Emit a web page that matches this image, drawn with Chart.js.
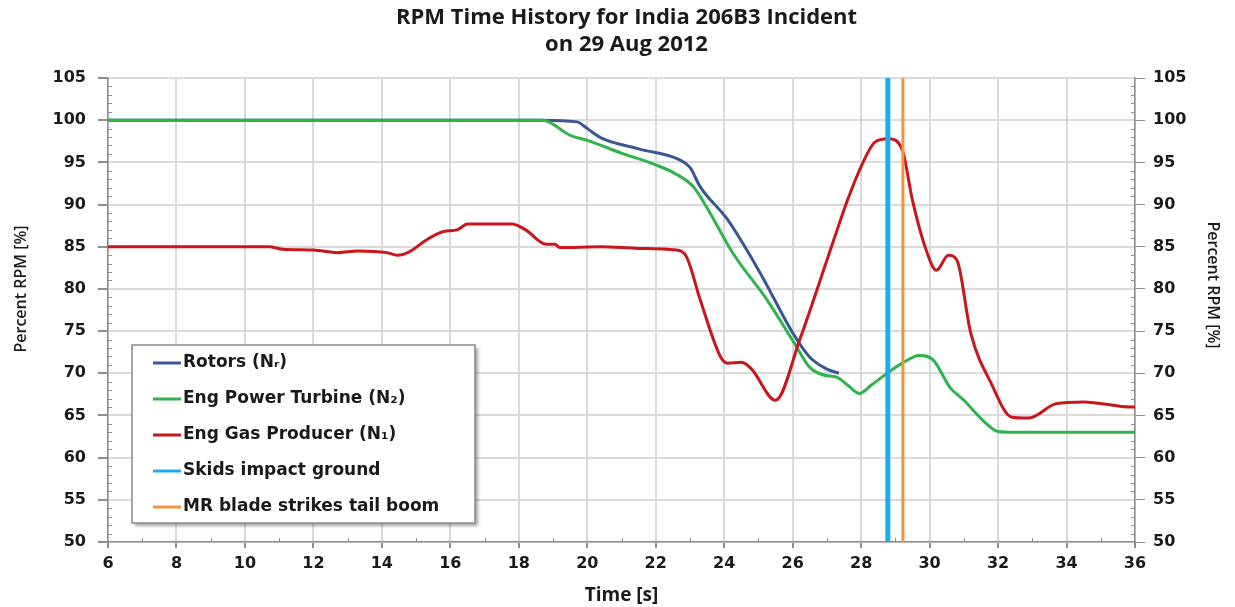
<!DOCTYPE html>
<html>
<head>
<meta charset="utf-8">
<title>RPM Time History</title>
<script src="https://cdn.jsdelivr.net/npm/chart.js@4.4.0/dist/chart.umd.min.js"></script>
<style>
  html, body { margin: 0; padding: 0; background: #fff; }
  canvas { display: block; }
</style>
</head>
<body>
<canvas id="rpmChart" width="1235" height="607"></canvas>
<script>
"use strict"
//Data (time in s, rpm in %)
const rotorsTime = [6, 18.7, 19.7, 20.0, 20.4, 21.5, 22.7, 23.0, 23.3, 24.1, 25.05, 26.0, 26.5, 27.0, 27.35];
const rotorsRpm  = [100, 100, 99.8, 99.0, 97.9, 96.6, 95.3, 94.4, 92.1, 88.2, 81.9, 74.8, 71.9, 70.5, 70.0];

const turbineTime = [6, 18.7, 19.5, 20.0, 21.0, 22.0, 22.6, 23.1, 23.5, 24.26, 25.25, 26.0, 26.5, 26.9, 27.3, 27.6, 27.95, 28.3, 28.76, 29.2, 29.7, 30.1, 30.6, 31.0, 31.56, 32.0, 32.5, 34, 36];
const turbineRpm  = [100, 100, 98.2, 97.6, 96.1, 94.7, 93.6, 92.1, 89.6, 84.2, 78.7, 73.9, 70.7, 69.8, 69.5, 68.6, 67.6, 68.6, 70.0, 71.2, 72.1, 71.6, 68.3, 66.8, 64.4, 63.1, 63.0, 63.0, 63.0];

const producerTime = [6, 10.7, 11.1, 12.0, 12.7, 13.3, 14.15, 14.45, 14.8, 15.3, 15.8, 16.2, 16.5, 17.8, 18.2, 18.8, 19.05, 19.2, 20.4, 21.5, 22.6, 22.9, 23.3, 23.9, 24.1, 24.5, 24.8, 25.5, 26.2, 27.2, 27.6, 28.0, 28.4, 28.8, 29.2, 29.5, 29.9, 30.2, 30.55, 30.8, 31.2, 31.8, 32.4, 32.9, 33.7, 34.5, 35.9, 36];
const producerRpm  = [85.0, 85.0, 84.7, 84.6, 84.3, 84.5, 84.3, 84.0, 84.4, 85.8, 86.8, 87.0, 87.7, 87.7, 87.0, 85.3, 85.3, 84.9, 85.0, 84.8, 84.6, 83.8, 78.7, 71.9, 71.2, 71.3, 70.5, 66.8, 73.9, 85.8, 90.5, 94.5, 97.4, 97.8, 96.5, 90.5, 84.6, 82.2, 84.0, 83.4, 74.8, 68.8, 64.8, 64.7, 66.4, 66.6, 66.0, 66.0];

//Event markers (time in s) and the y range they span
const skidsTime = 28.78;
const bladeTime = 29.22;
const rpmRange = [50, 105];

const seriesLabels = ["Rotors (N\u1d63)", "Eng Power Turbine (N\u2082)", "Eng Gas Producer (N\u2081)", "Skids impact ground", "MR blade strikes tail boom"];
const titleLines = ["RPM Time History for India 206B3 Incident", "on 29 Aug 2012"];
const yTitle = "Percent RPM [%]";

//gör om två listor till punkter
function toPoints(xs, ys) {
    return xs.map((x, i) => ({ x: x, y: ys[i] }));
}
function eventLine(t) {
    return rpmRange.map(v => ({ x: t, y: v }));
}

const gridColor = "#dadada";
const axisColor = "#8e8e8e";
const textColor = "#1a1a1a";
const tickFont = { family: "DejaVu Sans", size: 16, weight: "bold" };

//Titel, axeltitlar, minor ticks och legend ritas här
const extras = {
    id: "extras",
    beforeDatasetsDraw(chart) {
        const ctx = chart.ctx;
        const area = chart.chartArea;
        const y = chart.scales.y;
        const x = chart.scales.x;
        ctx.save();
        ctx.strokeStyle = axisColor;
        ctx.lineWidth = 1;
        for (let v = rpmRange[0]; v <= rpmRange[1]; v++) {
            if (v % 5 === 0) continue;
            const py = Math.round(y.getPixelForValue(v)) + 0.5;
            ctx.beginPath();
            ctx.moveTo(area.left, py);
            ctx.lineTo(area.left + 4, py);
            ctx.moveTo(area.right, py);
            ctx.lineTo(area.right - 4, py);
            ctx.stroke();
        }
        for (let t = 7; t < 36; t += 2) {
            const px = Math.round(x.getPixelForValue(t)) + 0.5;
            ctx.beginPath();
            ctx.moveTo(px, area.bottom);
            ctx.lineTo(px, area.bottom - 4);
            ctx.stroke();
        }
        ctx.restore();
    },
    afterDraw(chart) {
        const ctx = chart.ctx;
        const area = chart.chartArea;
        ctx.save();
        //titel
        ctx.fillStyle = textColor;
        ctx.font = "bold 22px 'Open Sans'";
        ctx.textAlign = "center";
        ctx.textBaseline = "middle";
        const cx = (area.left + area.right) / 2 + 5;
        ctx.fillText(titleLines[0], cx, 18);
        ctx.fillText(titleLines[1], cx, 45);

        //y-axeltitlar
        ctx.font = "600 16px 'Open Sans'";
        ctx.save();
        ctx.translate(21, 289);
        ctx.rotate(-Math.PI / 2);
        ctx.fillText(yTitle, 0, 0);
        ctx.restore();
        ctx.save();
        ctx.translate(1213, 285);
        ctx.rotate(Math.PI / 2);
        ctx.fillText(yTitle, 0, 0);
        ctx.restore();

        //legend
        const box = { left: 132, top: 345, width: 343, height: 178 };
        ctx.shadowColor = "rgba(0,0,0,0.35)";
        ctx.shadowBlur = 3;
        ctx.shadowOffsetX = 3;
        ctx.shadowOffsetY = 3;
        ctx.fillStyle = "#fff";
        ctx.fillRect(box.left, box.top, box.width, box.height);
        ctx.shadowColor = "transparent";
        ctx.strokeStyle = "#8a8a8a";
        ctx.lineWidth = 1.5;
        ctx.strokeRect(box.left, box.top, box.width, box.height);

        ctx.font = "bold 17px 'DejaVu Sans'";
        ctx.textAlign = "left";
        chart.data.datasets.forEach((ds, i) => {
            const ly = 363 + i * 36;
            ctx.strokeStyle = ds.borderColor;
            ctx.lineWidth = 3;
            ctx.beginPath();
            ctx.moveTo(153, ly);
            ctx.lineTo(181, ly);
            ctx.stroke();
            ctx.fillStyle = textColor;
            ctx.fillText(ds.label, 183, ly);
        });
        ctx.restore();
    }
};

const ctx = document.getElementById("rpmChart").getContext("2d");

new Chart(ctx, {
    type: "line",
    data: {
        datasets: [
            { label: seriesLabels[0], data: toPoints(rotorsTime, rotorsRpm), borderColor: "#3a5795", borderWidth: 3, order: 4 },
            { label: seriesLabels[1], data: toPoints(turbineTime, turbineRpm), borderColor: "#2fb34c", borderWidth: 3, order: 3 },
            { label: seriesLabels[2], data: toPoints(producerTime, producerRpm), borderColor: "#c9161d", borderWidth: 3, order: 2 },
            { label: seriesLabels[3], data: eventLine(skidsTime), borderColor: "#1badeb", borderWidth: 5, order: 0, cubicInterpolationMode: "default", tension: 0 },
            { label: seriesLabels[4], data: eventLine(bladeTime), borderColor: "#f7923c", borderWidth: 3, order: 1, cubicInterpolationMode: "default", tension: 0 }
        ]
    },
    options: {
        responsive: false,
        animation: false,
        layout: { padding: { top: 78, left: 0, right: 0, bottom: 0 } },
        elements: {
            point: { radius: 0 },
            line: { cubicInterpolationMode: "monotone", borderCapStyle: "butt" }
        },
        plugins: {
            legend: { display: false },
            title: { display: false },
            tooltip: { enabled: false }
        },
        scales: {
            x: {
                type: "linear",
                min: 6,
                max: 36,
                afterFit: (scale) => { scale.height = 65; },
                border: { color: axisColor, width: 1.5 },
                grid: { color: gridColor, lineWidth: 2, tickLength: 6, tickColor: axisColor },
                ticks: { stepSize: 2, color: textColor, font: tickFont, padding: 6 },
                title: { display: true, text: "Time [s]", color: textColor, font: { family: "Open Sans", size: 19, weight: "bold" }, padding: { top: 0, bottom: 0 } }
            },
            y: {
                position: "left",
                min: 50,
                max: 105,
                afterFit: (scale) => { scale.width = 108; },
                border: { color: axisColor, width: 1.5 },
                grid: { color: gridColor, lineWidth: 2, tickLength: 10, tickColor: axisColor },
                ticks: { stepSize: 5, color: textColor, font: tickFont, padding: 12 }
            },
            y2: {
                position: "right",
                min: 50,
                max: 105,
                afterFit: (scale) => { scale.width = 100; },
                border: { color: axisColor, width: 1.5 },
                grid: { drawOnChartArea: false, tickLength: 10, tickColor: axisColor },
                ticks: { stepSize: 5, color: textColor, font: tickFont, padding: 8 }
            }
        }
    },
    plugins: [extras]
});
</script>
</body>
</html>
